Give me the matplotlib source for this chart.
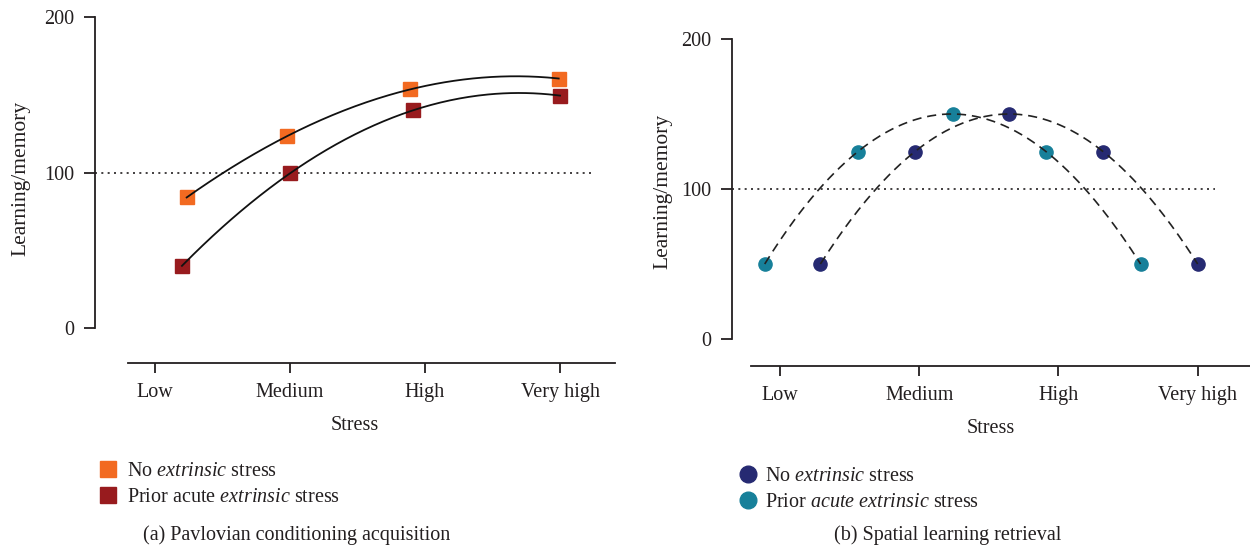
import numpy as np
import matplotlib
matplotlib.use("Agg")
import matplotlib.pyplot as plt
from matplotlib.lines import Line2D

plt.rcParams["font.family"] = ["Liberation Serif", "DejaVu Serif"]
plt.rcParams["mathtext.fontset"] = "custom"
plt.rcParams["mathtext.rm"] = "Liberation Serif"
plt.rcParams["mathtext.it"] = "Liberation Serif:italic"
plt.rcParams["font.size"] = 14.5
TEXT = "#231f20"

# ---- data ----
stress_levels = ["Low", "Medium", "High", "Very high"]
baseline = 100

# (a) Pavlovian conditioning acquisition
pav_no_x = [0.235, 0.98, 1.89, 2.99]
pav_no_y = [84, 123.5, 153.5, 160.5]
pav_prior_x = [0.20, 1.00, 1.91, 3.00]
pav_prior_y = [40, 99.5, 140, 149.5]

# (b) Spatial learning retrieval
spa_no_x = [0.29, 0.97, 1.645, 2.32, 3.00]
spa_no_y = [50, 125, 150, 125, 50]
spa_prior_x = [-0.11, 0.56, 1.24, 1.91, 2.59]
spa_prior_y = [50, 125, 150, 125, 50]

ORANGE = "#f26a21"
DARKRED = "#981b1e"
NAVY = "#262a72"
TEAL = "#17809a"

W, H = 1250, 548
fig = plt.figure(figsize=(W / 100, H / 100), dpi=100)


def smooth(xs, ys, n=200):
    """Interpolating polynomial through the given points."""
    xs = np.asarray(xs, float)
    ys = np.asarray(ys, float)
    coef = np.polyfit(xs, ys, len(xs) - 1)
    xx = np.linspace(xs.min(), xs.max(), n)
    return xx, np.polyval(coef, xx)


def style_axes(ax, xlim, ylim, xbounds, dot_end):
    ax.set_xlim(*xlim)
    ax.set_ylim(*ylim)
    for s in ("top", "right"):
        ax.spines[s].set_visible(False)
    ax.spines["left"].set_bounds(0, 200)
    ax.spines["bottom"].set_bounds(*xbounds)
    for s in ("left", "bottom"):
        ax.spines[s].set_linewidth(1.3)
        ax.spines[s].set_color(TEXT)
    ax.set_yticks([0, 100, 200])
    ax.set_xticks(range(len(stress_levels)))
    ax.set_xticklabels(stress_levels)
    ax.tick_params(axis="y", length=8, width=1.3, pad=7, colors=TEXT)
    ax.tick_params(axis="x", length=7.5, width=1.3, pad=7, colors=TEXT)
    ax.set_xlabel("Stress", labelpad=10, color=TEXT)
    ax.set_ylabel("Learning/memory", color=TEXT, fontsize=15.5)
    ax.plot([xlim[0], dot_end], [baseline, baseline], color=TEXT,
            lw=1.2, linestyle=(0, (1.2, 2.6)), zorder=1)


# ---- panel (a) ----
axa = fig.add_axes([95 / W, 1 - 363 / H, 520 / W, 349 / H])
style_axes(axa, (-0.444, 3.407), (-22.5, 202), (-0.2, 3.407), 3.25)
axa.yaxis.set_label_coords(-0.125, 0.53)
axa.plot(pav_no_x, pav_no_y, "s", color=ORANGE, ms=10.5, zorder=2)
axa.plot(pav_prior_x, pav_prior_y, "s", color=DARKRED, ms=10.5, zorder=2)
for xs, ys in ((pav_no_x, pav_no_y), (pav_prior_x, pav_prior_y)):
    xx, yy = smooth(xs, ys)
    axa.plot(xx, yy, color="#111111", lw=1.3, zorder=3)

# ---- panel (b) ----
axb = fig.add_axes([732 / W, 1 - 366 / H, 518 / W, 330 / H])
style_axes(axb, (-0.345, 3.376), (-18, 202), (-0.208, 3.376), 3.125)
axb.yaxis.set_label_coords(-0.115, 0.53)
axb.plot(spa_no_x, spa_no_y, "o", color=NAVY, ms=9.5, zorder=2)
axb.plot(spa_prior_x, spa_prior_y, "o", color=TEAL, ms=9.5, zorder=2)
for xs, ys in ((spa_no_x, spa_no_y), (spa_prior_x, spa_prior_y)):
    xx, yy = smooth(xs, ys)
    axb.plot(xx, yy, color="#222222", lw=1.2, linestyle=(0, (5.5, 3.5)), zorder=3)

# ---- legends ----
lab_no = r"No $\mathit{extrinsic}$ stress"
leg_a = [Line2D([], [], ls="none", marker="s", ms=12, color=ORANGE),
         Line2D([], [], ls="none", marker="s", ms=12, color=DARKRED)]
fig.legend(leg_a, [lab_no, r"Prior acute $\mathit{extrinsic}$ stress"],
           loc="upper left", bbox_to_anchor=(88 / W, 1 - 452 / H),
           frameon=False, handlelength=1.0, handletextpad=0.45,
           labelspacing=0.33, borderpad=0, labelcolor=TEXT)

leg_b = [Line2D([], [], ls="none", marker="o", ms=12, color=NAVY),
         Line2D([], [], ls="none", marker="o", ms=12, color=TEAL)]
fig.legend(leg_b, [lab_no, r"Prior $\mathit{acute\ extrinsic}$ stress"],
           loc="upper left", bbox_to_anchor=(728 / W, 1 - 457 / H),
           frameon=False, handlelength=1.0, handletextpad=0.35,
           labelspacing=0.33, borderpad=0, labelcolor=TEXT)

# ---- captions ----
fig.text(297 / W, 1 - 535 / H, "(a) Pavlovian conditioning acquisition",
         ha="center", va="center", color=TEXT)
fig.text(948 / W, 1 - 535 / H, "(b) Spatial learning retrieval",
         ha="center", va="center", color=TEXT)

fig.savefig("out.png", dpi=100, facecolor="white")
